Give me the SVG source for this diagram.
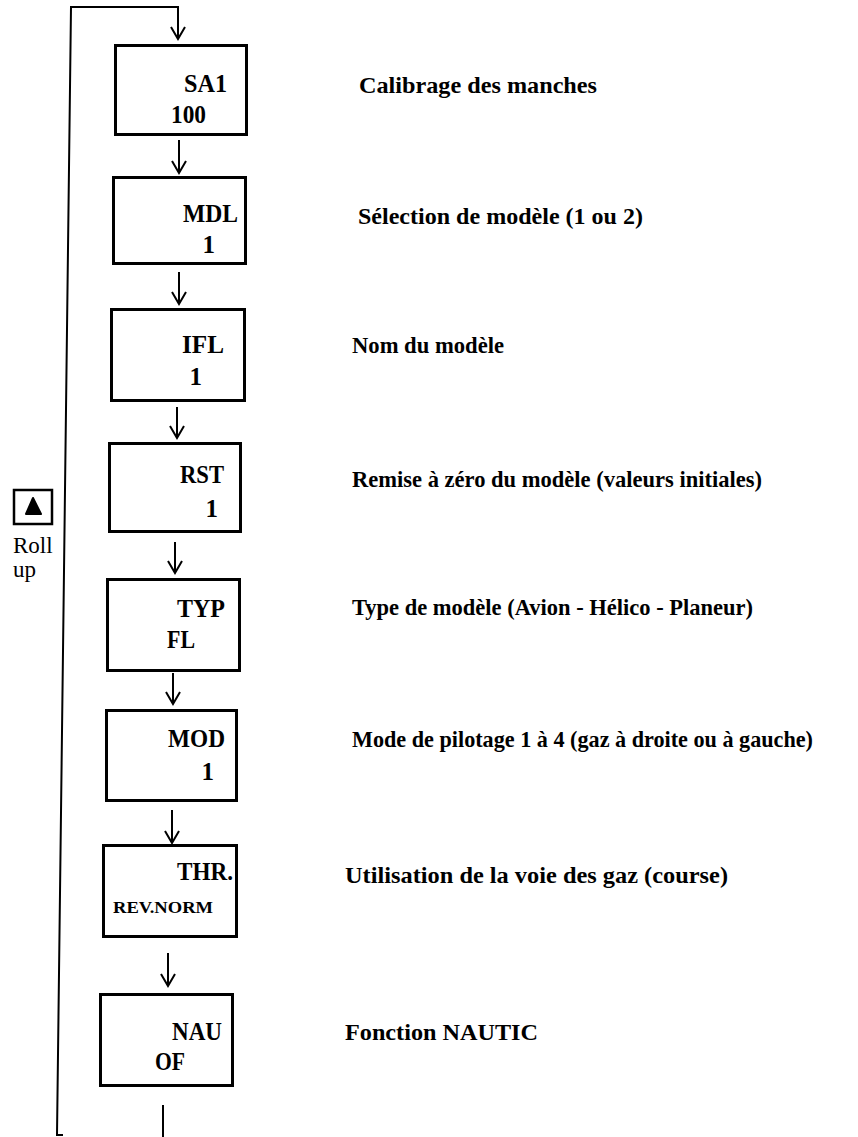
<svg xmlns="http://www.w3.org/2000/svg" width="858" height="1137" viewBox="0 0 858 1137">
<style>
.box{fill:#fff;stroke:#000;stroke-width:3}
.bt{font-family:"Liberation Serif","Times New Roman",serif;font-weight:bold;font-size:25px;fill:#000}
.sm{font-size:17px}
.lb{font-family:"Liberation Serif","Times New Roman",serif;font-weight:bold;font-size:24px;fill:#000}
.rg{font-family:"Liberation Serif","Times New Roman",serif;font-size:23px;fill:#000}
.ln{fill:none;stroke:#000;stroke-width:2}
</style>
<rect width="858" height="1137" fill="#fff"/>
<g id="connectors">
<path class="ln" d="M57,1135 L71,7 L178,7 L178,38"/>
<path class="ln" d="M56,1135 L63,1135"/>
<path class="ln" d="M171,27 L178,39 L185,27"/>
<path class="ln" d="M179,140 L179,172 M172,161 L179,173 L186,161"/>
<path class="ln" d="M179,272 L179,303 M172,292 L179,304 L186,292"/>
<path class="ln" d="M177,407 L177,437 M170,426 L177,438 L184,426"/>
<path class="ln" d="M175,542 L175,572 M168,561 L175,573 L182,561"/>
<path class="ln" d="M173,673 L173,703 M166,692 L173,704 L180,692"/>
<path class="ln" d="M172,810 L172,842 M165,831 L172,843 L179,831"/>
<path class="ln" d="M168,953 L168,985 M161,974 L168,986 L175,974"/>
<path class="ln" d="M163,1105 L163,1137"/>
</g>
<g id="rollup">
<rect x="14" y="490" width="38" height="34" fill="#fff" stroke="#000" stroke-width="2.5"/>
<path d="M33,498 L41,514 L26,514 Z" fill="#000" stroke="#000" stroke-width="2" stroke-linejoin="round"/>
<text class="rg" x="13" y="553">Roll</text>
<text class="rg" x="13" y="577">up</text>
</g>
<g id="n-sa1">
<rect class="box" x="115.5" y="45.5" width="131" height="89"/>
<text class="bt" x="184" y="92" textLength="43" lengthAdjust="spacingAndGlyphs">SA1</text>
<text class="bt" x="171" y="123" textLength="35" lengthAdjust="spacingAndGlyphs">100</text>
</g>
<g id="n-mdl">
<rect class="box" x="113.5" y="177.5" width="132" height="86"/>
<text class="bt" x="183" y="222" textLength="55" lengthAdjust="spacingAndGlyphs">MDL</text>
<text class="bt" x="215" y="253" text-anchor="end">1</text>
</g>
<g id="n-ifl">
<rect class="box" x="111.5" y="309.5" width="133" height="91"/>
<text class="bt" x="182" y="353" textLength="42" lengthAdjust="spacingAndGlyphs">IFL</text>
<text class="bt" x="202" y="385" text-anchor="end">1</text>
</g>
<g id="n-rst">
<rect class="box" x="109.5" y="443.5" width="131" height="88"/>
<text class="bt" x="180" y="483" textLength="44" lengthAdjust="spacingAndGlyphs">RST</text>
<text class="bt" x="218" y="517" text-anchor="end">1</text>
</g>
<g id="n-typ">
<rect class="box" x="107.5" y="579.5" width="132" height="91"/>
<text class="bt" x="177" y="617" textLength="48" lengthAdjust="spacingAndGlyphs">TYP</text>
<text class="bt" x="167" y="648" textLength="28" lengthAdjust="spacingAndGlyphs">FL</text>
</g>
<g id="n-mod">
<rect class="box" x="106.5" y="710.5" width="130" height="90"/>
<text class="bt" x="168" y="747" textLength="57" lengthAdjust="spacingAndGlyphs">MOD</text>
<text class="bt" x="214" y="780" text-anchor="end">1</text>
</g>
<g id="n-thr">
<rect class="box" x="103.5" y="845.5" width="133" height="91"/>
<text class="bt" x="177" y="880" textLength="56" lengthAdjust="spacingAndGlyphs">THR.</text>
<text class="bt sm" x="113" y="913" textLength="100" lengthAdjust="spacingAndGlyphs">REV.NORM</text>
</g>
<g id="n-nau">
<rect class="box" x="100.5" y="994.5" width="132" height="91"/>
<text class="bt" x="172" y="1040" textLength="50" lengthAdjust="spacingAndGlyphs">NAU</text>
<text class="bt" x="155" y="1070" textLength="30" lengthAdjust="spacingAndGlyphs">OF</text>
</g>
<g id="labels">
<text class="lb" x="359" y="93" textLength="238" lengthAdjust="spacingAndGlyphs">Calibrage des manches</text>
<text class="lb" x="358" y="224" textLength="285" lengthAdjust="spacingAndGlyphs">Sélection de modèle (1 ou 2)</text>
<text class="lb" x="352" y="353" textLength="152" lengthAdjust="spacingAndGlyphs">Nom du modèle</text>
<text class="lb" x="352" y="487" textLength="410" lengthAdjust="spacingAndGlyphs">Remise à zéro du modèle (valeurs initiales)</text>
<text class="lb" x="352" y="615" textLength="401" lengthAdjust="spacingAndGlyphs">Type de modèle (Avion - Hélico - Planeur)</text>
<text class="lb" x="352" y="747" textLength="461" lengthAdjust="spacingAndGlyphs">Mode de pilotage 1 à 4 (gaz à droite ou à gauche)</text>
<text class="lb" x="345" y="883" textLength="383" lengthAdjust="spacingAndGlyphs">Utilisation de la voie des gaz (course)</text>
<text class="lb" x="345" y="1040" textLength="193" lengthAdjust="spacingAndGlyphs">Fonction NAUTIC</text>
</g>
</svg>
